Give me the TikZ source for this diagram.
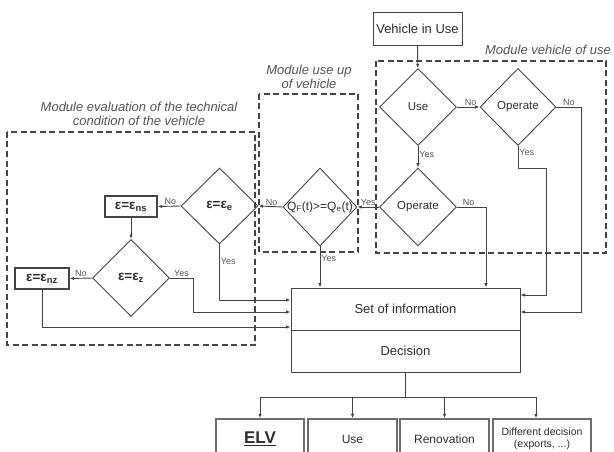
\documentclass[tikz,border=0pt]{standalone}
\usepackage{fontspec}
\setmainfont{Liberation Sans}
\usetikzlibrary{arrows.meta,shapes.geometric,positioning,calc}
\definecolor{linegray}{HTML}{444444}
\definecolor{textgray}{HTML}{2E2E2E}
\definecolor{labelgray}{HTML}{555555}
\definecolor{boxgray}{HTML}{6E6E6E}

\begin{document}
\begin{tikzpicture}[x=1pt,y=-1pt,
    line/.style={draw=linegray,line width=0.9pt},
    arrow/.style={line,-{Latex[length=4.5pt,width=3.5pt]}},
    decision/.style={diamond,draw=linegray,line width=0.9pt,inner sep=0pt,
                     minimum width=77pt,minimum height=77pt,text=textgray,
                     font=\fontsize{11.5}{13}\selectfont},
    epsfont/.style={font=\bfseries\fontsize{13.5}{15}\selectfont},
    epsbox/.style={rectangle,draw=linegray,line width=1.4pt,inner sep=0pt,
                   minimum height=21pt,text=textgray,epsfont},
    block/.style={rectangle,draw=linegray,line width=0.9pt,text=textgray,
                  font=\fontsize{13}{15}\selectfont},
    outbox/.style={rectangle,draw=boxgray,line width=1.5pt,minimum height=40pt,
                   inner sep=0pt,align=center,text=textgray},
    module/.style={draw=linegray,line width=1.2pt,dash pattern=on 6pt off 3.5pt},
    module label/.style={align=center,text=labelgray,
                         font=\itshape\fontsize{13}{14.5}\selectfont},
    yn/.style={text=labelgray,font=\fontsize{9}{10}\selectfont,inner sep=1pt}]

    \clip (0,0) rectangle (614,452);

    % modules
    \draw[module] (7,132) rectangle (255,345);
    \draw[module] (259,94) rectangle (358,252);
    \draw[module] (376,61) rectangle (606,253);
    \node[module label] (evallabel) at (139,114) {Module evaluation of the technical\\condition of the vehicle};
    \node[module label] (useuplabel) at (309,77) {Module use up\\of vehicle};
    \node[module label] (vuselabel) at (548,50) {Module vehicle of use};

    % nodes
    \node[block,minimum width=89pt,minimum height=33pt,inner sep=0pt] (viu) at (417.5,28.5) {Vehicle in Use};
    \node[decision] (use) at (418,107) {Use};
    \node[decision,minimum width=76pt] (opA) at (518,107) {Operate};
    \node[decision,minimum height=78pt] (opB) at (418,207) {Operate};
    \node[decision,minimum width=74pt,minimum height=78pt] (qd) at (320,207) {};
    \node[text=textgray,font=\fontsize{12}{13}\selectfont,inner sep=0pt] (qtext) at (qd.center)
        {Q\textsubscript{F}(t)>=Q\textsubscript{e}(t)};
    \node[decision,epsfont,minimum height=76pt] (ee) at (219.5,206) {ε=ε\textsubscript{e}};
    \node[epsbox,minimum width=52pt] (ens) at (131,206.5) {ε=ε\textsubscript{ns}};
    \node[decision,epsfont] (ez) at (131,278) {ε=ε\textsubscript{z}};
    \node[epsbox,minimum width=54pt] (enz) at (42,278.5) {ε=ε\textsubscript{nz}};
    \node[block,minimum width=229pt,minimum height=42pt,inner sep=0pt] (info) at (405.5,309) {Set of information};
    \node[block,minimum width=229pt,minimum height=42pt,inner sep=0pt] (dec) at (405.5,351) {Decision};

    \node[outbox,minimum width=88pt,font=\bfseries\fontsize{17}{19}\selectfont] (elv) at (260,439) {\underline{ELV}};
    \node[outbox,minimum width=89pt,font=\fontsize{12}{14}\selectfont] (useout) at (352.5,439) {Use};
    \node[outbox,minimum width=89pt,font=\fontsize{12}{14}\selectfont] (renov) at (444.5,439) {Renovation};
    \node[outbox,minimum width=98pt,font=\fontsize{10.5}{12}\selectfont] (diff) at (542,439) {Different decision\\(exports, ...)};

    % connectors
    \draw[arrow] (viu) -- (use);
    \draw[arrow] (use.east) -- (opA.west) node[yn,above,pos=0.6] {No};
    \draw[arrow] (use.south) -- (opB.north) node[yn,right,pos=0.4] {Yes};
    \draw[arrow] (opA.east) -- ++(25,0) node[yn,above,pos=0.5] {No} |- ([yshift=-3pt]info.east);
    \draw[arrow] (opA.south) -- ++(0,22) node[yn,right,pos=0.3] {Yes} -- ++(28,0) |- ([yshift=14pt]info.east);
    \draw[arrow] (opB.east) -| ([xshift=80.5pt]info.north) node[yn,above,pos=0.2] {No};
    \draw[arrow] (opB.west) -- (qd.east) node[yn,above,pos=0.5] {Yes};
    \draw[arrow] (qd.west) -- (ee.east) node[yn,above,pos=0.45] {No};
    \draw[arrow] (qd.south) -- (qd.south |- info.north) node[yn,right,pos=0.3] {Yes};
    \draw[arrow] (ee.west) -- (ens.east) node[yn,above,pos=0.45] {No};
    \draw[arrow] (ee.south) |- ([yshift=9pt]info.west) node[yn,right,pos=0.15] {Yes};
    \draw[arrow] (ens) -- (ez);
    \draw[arrow] (ez.west) -- (enz.east) node[yn,above,pos=0.5] {No};
    \draw[arrow] (ez.east) -- ++(23,0) node[yn,above,pos=0.5] {Yes} |- ([yshift=-3pt]info.west);
    \draw[arrow] (enz.south) |- ([yshift=-18pt]info.west);

    \draw[line] (dec.south) -- ++(0,25) coordinate (split);
    \draw[line] (split -| elv.north) -- ([xshift=-6pt]split -| diff.north);
    \foreach \out in {elv,useout,renov}
        \draw[arrow] (split -| \out.north) -- (\out.north);
    \draw[arrow] ([xshift=-6pt]split -| diff.north) -- ([xshift=-6pt]diff.north);
\end{tikzpicture}
\end{document}
